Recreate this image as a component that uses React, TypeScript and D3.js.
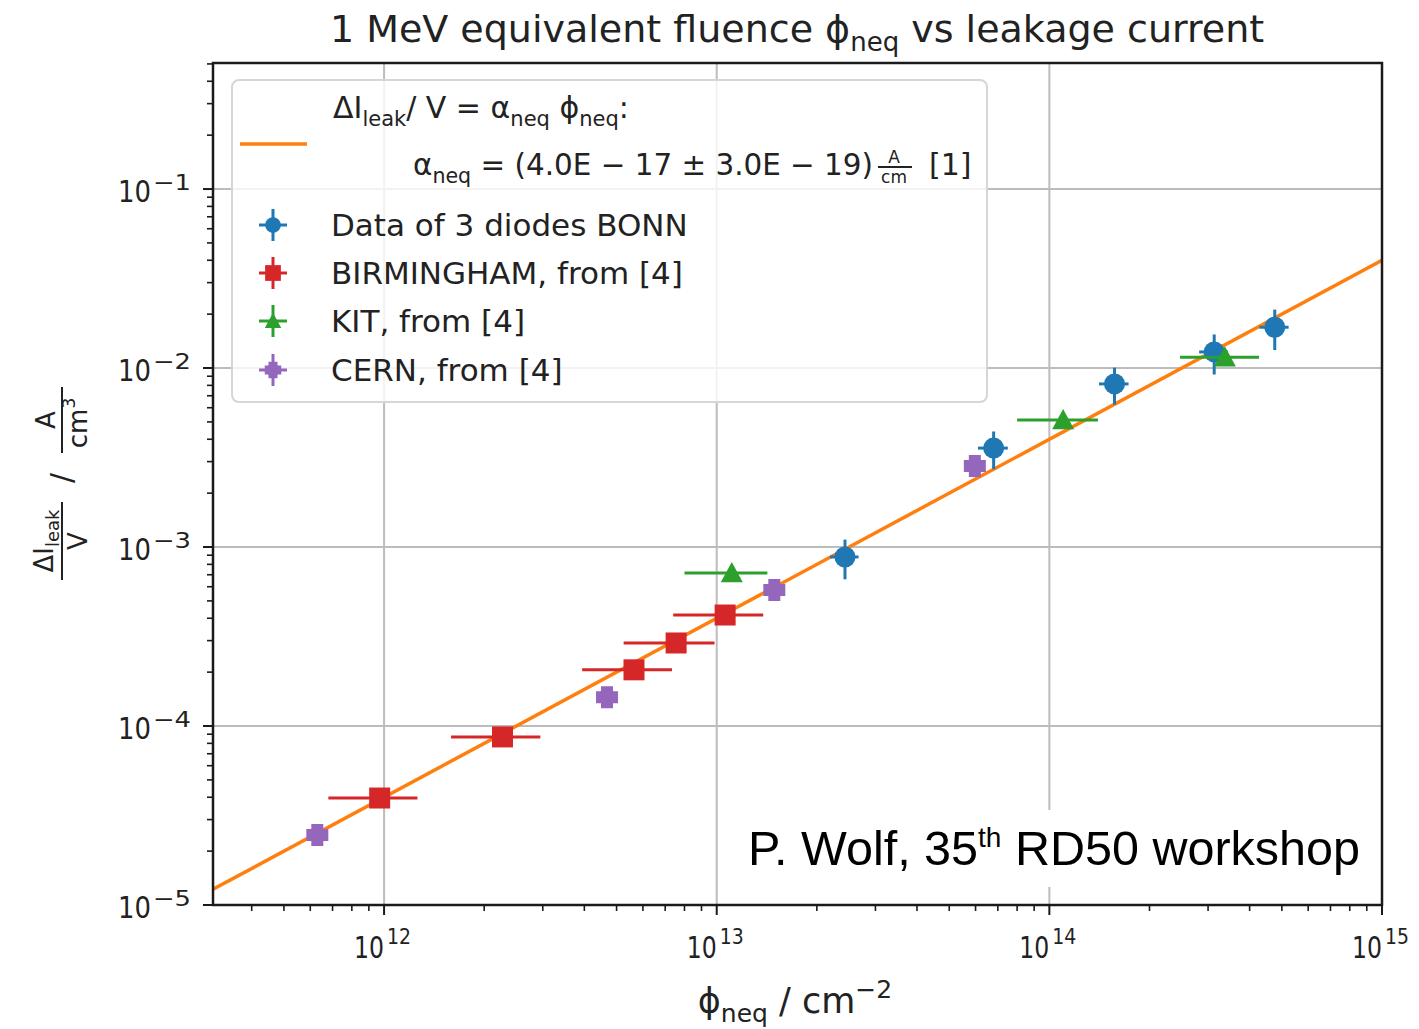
import React from "react";
import * as d3 from "d3";

const W = 1419;
const H = 1029;

// ---- data ----
const bonnX = [2.43e13, 6.8e13, 1.57e14, 3.13e14, 4.76e14];
const bonnY = [8.8e-4, 3.57e-3, 8.15e-3, 1.23e-2, 1.69e-2];
const bonnXErr = [2.4e12, 7.0e12, 1.6e13, 3.1e13, 4.8e13];
const bonnYErr = [2.2e-4, 0.85e-3, 1.9e-3, 3.1e-3, 4.3e-3];

const birmX = [9.7e11, 2.27e12, 5.64e12, 7.55e12, 1.06e13];
const birmY = [3.96e-5, 8.69e-5, 2.06e-4, 2.91e-4, 4.17e-4];
const birmXErr = [2.9e11, 6.8e11, 1.7e12, 2.3e12, 3.2e12];

const kitX = [1.11e13, 1.1e14, 3.37e14];
const kitY = [7.16e-4, 5.13e-3, 1.15e-2];
const kitXErr = [3.1e12, 3.0e13, 9.0e13];

const cernX = [6.3e11, 4.68e12, 1.49e13, 5.97e13];
const cernY = [2.46e-5, 1.45e-4, 5.75e-4, 2.84e-3];

const alphaNeq = 4.0e-17;

const xTickExps = [12, 13, 14, 15];
const yTickExps = [-5, -4, -3, -2, -1];

const COLORS = {
  bonn: "#1f77b4",
  birm: "#d62728",
  kit: "#2ca02c",
  cern: "#9467bd",
  fit: "#ff7f0e",
};

const FONT = "'DejaVu Sans', Verdana, sans-serif";

// ---- layout ----
const plot = { left: 213, right: 1382, top: 63, bottom: 905 };

const x = d3.scaleLog().domain([3.06e11, 1e15]).range([plot.left, plot.right]);
const y = d3.scaleLog().domain([1e-5, 0.506]).range([plot.bottom, plot.top]);

function minorTicks(scale: any) {
  const [d0, d1] = scale.domain();
  const out: number[] = [];
  for (let e = Math.floor(Math.log10(d0)); e <= Math.ceil(Math.log10(d1)); e++) {
    for (let m = 2; m <= 9; m++) {
      const v = m * Math.pow(10, e);
      if (v >= d0 && v <= d1) out.push(v);
    }
  }
  return out;
}

function Marker({ kind, cx, cy, s = 1 }: { kind: string; cx: number; cy: number; s?: number }) {
  if (kind === "bonn") return <circle cx={cx} cy={cy} r={10.5 * s} fill={COLORS.bonn} />;
  if (kind === "birm")
    return <rect x={cx - 10.5 * s} y={cy - 10.5 * s} width={21 * s} height={21 * s} fill={COLORS.birm} />;
  if (kind === "kit") {
    const h = 11 * s;
    return (
      <polygon
        points={`${cx},${cy - h} ${cx + h},${cy + h * 0.85} ${cx - h},${cy + h * 0.85}`}
        fill={COLORS.kit}
      />
    );
  }
  // cern: filled plus ("P")
  const a = 11 * s;
  const b = 6 * s;
  const pts = [
    [-b, -a], [b, -a], [b, -b], [a, -b], [a, b], [b, b], [b, a], [-b, a], [-b, b], [-a, b], [-a, -b], [-b, -b],
  ]
    .map(([u, v]) => `${cx + u},${cy + v}`)
    .join(" ");
  return (
    <g>
      <polygon points={pts} fill={COLORS.cern} />
      <circle cx={cx} cy={cy} r={8.5 * s} fill={COLORS.cern} />
    </g>
  );
}

export default function App() {
  const fitLine = d3
    .line<number>()
    .x((d) => x(d))
    .y((d) => y(alphaNeq * d));
  const fitXs = x.domain();

  const legendEntries = [
    { kind: "bonn", label: "Data of 3 diodes BONN", cy: 225 },
    { kind: "birm", label: "BIRMINGHAM, from [4]", cy: 273 },
    { kind: "kit", label: "KIT, from [4]", cy: 321 },
    { kind: "cern", label: "CERN, from [4]", cy: 370 },
  ];

  const ebW = 3;

  return (
    <svg
      width={W}
      height={H}
      style={{ position: "absolute", left: 0, top: 0, background: "#fff" }}
      fontFamily={FONT}
    >
      <rect x={0} y={0} width={W} height={H} fill="#fff" />
      <defs>
        <clipPath id="plotclip">
          <rect x={plot.left} y={plot.top} width={plot.right - plot.left} height={plot.bottom - plot.top} />
        </clipPath>
      </defs>

      {/* grid */}
      <g stroke="#bcbcbc" strokeWidth={2}>
        {xTickExps.map((e) => (
          <line key={"gx" + e} x1={x(Math.pow(10, e))} x2={x(Math.pow(10, e))} y1={plot.top} y2={plot.bottom} />
        ))}
        {yTickExps.map((e) => (
          <line key={"gy" + e} x1={plot.left} x2={plot.right} y1={y(Math.pow(10, e))} y2={y(Math.pow(10, e))} />
        ))}
      </g>

      <g clipPath="url(#plotclip)">
        {/* fit line */}
        <path d={fitLine(fitXs) || ""} stroke={COLORS.fit} strokeWidth={3.5} fill="none" />

        {/* BONN */}
        {bonnX.map((v, i) => (
          <g key={"bo" + i} stroke={COLORS.bonn} strokeWidth={ebW}>
            <line x1={x(v)} x2={x(v)} y1={y(bonnY[i] - bonnYErr[i])} y2={y(bonnY[i] + bonnYErr[i])} />
            <line x1={x(v - bonnXErr[i])} x2={x(v + bonnXErr[i])} y1={y(bonnY[i])} y2={y(bonnY[i])} />
          </g>
        ))}
        {bonnX.map((v, i) => (
          <Marker key={"bom" + i} kind="bonn" cx={x(v)} cy={y(bonnY[i])} />
        ))}

        {/* BIRMINGHAM */}
        {birmX.map((v, i) => (
          <line
            key={"bi" + i}
            stroke={COLORS.birm}
            strokeWidth={ebW}
            x1={x(v - birmXErr[i])}
            x2={x(v + birmXErr[i])}
            y1={y(birmY[i])}
            y2={y(birmY[i])}
          />
        ))}
        {birmX.map((v, i) => (
          <Marker key={"bim" + i} kind="birm" cx={x(v)} cy={y(birmY[i])} />
        ))}

        {/* KIT */}
        {kitX.map((v, i) => (
          <line
            key={"ki" + i}
            stroke={COLORS.kit}
            strokeWidth={ebW}
            x1={x(v - kitXErr[i])}
            x2={x(v + kitXErr[i])}
            y1={y(kitY[i])}
            y2={y(kitY[i])}
          />
        ))}
        {kitX.map((v, i) => (
          <Marker key={"kim" + i} kind="kit" cx={x(v)} cy={y(kitY[i])} />
        ))}

        {/* CERN */}
        {cernX.map((v, i) => (
          <Marker key={"cem" + i} kind="cern" cx={x(v)} cy={y(cernY[i])} />
        ))}
      </g>

      {/* legend */}
      <g>
        <rect x={232} y={80} width={755} height={322} rx={7} fill="#fff" fillOpacity={0.8} stroke="#d6d6d6" strokeWidth={2} />
        <line x1={240} x2={307} y1={144} y2={144} stroke={COLORS.fit} strokeWidth={3.5} />
        <text x={333} y={118} fontSize={30} fill="#222">
          <tspan>ΔI</tspan>
          <tspan fontSize={21} dy={8}>leak</tspan>
          <tspan dy={-8}>/ V = α</tspan>
          <tspan fontSize={21} dy={8}>neq</tspan>
          <tspan dy={-8}> ϕ</tspan>
          <tspan fontSize={21} dy={8}>neq</tspan>
          <tspan dy={-8}>:</tspan>
        </text>
        <text x={413} y={175} fontSize={30} fill="#222" textLength={460} lengthAdjust="spacingAndGlyphs">
          <tspan>α</tspan>
          <tspan fontSize={21} dy={8}>neq</tspan>
          <tspan dy={-8}> = (4.0E − 17 ± 3.0E − 19)</tspan>
        </text>
        <text x={894} y={163} fontSize={17} textAnchor="middle" fill="#222">A</text>
        <line x1={878} x2={912} y1={167} y2={167} stroke="#222" strokeWidth={1.8} />
        <text x={894} y={183} fontSize={17} textAnchor="middle" fill="#222">cm</text>
        <text x={929} y={175} fontSize={30} fill="#222">[1]</text>

        {legendEntries.map((e) => (
          <g key={e.kind}>
            <g stroke={(COLORS as any)[e.kind]} strokeWidth={3}>
              <line x1={273} x2={273} y1={e.cy - 16} y2={e.cy + 16} />
              <line x1={259} x2={287} y1={e.cy} y2={e.cy} />
            </g>
            <Marker kind={e.kind} cx={273} cy={e.cy} s={0.75} />
            <text x={331} y={e.cy + 11} fontSize={31} fill="#222">
              {e.label}
            </text>
          </g>
        ))}
      </g>

      {/* annotation box */}
      <rect x={735} y={810} width={645} height={77} fill="#fff" />
      <text x={748} y={865} fontSize={48.5} fontFamily="'Liberation Sans', Arial, sans-serif" fill="#000">
        <tspan>P. Wolf, 35</tspan>
        <tspan fontSize={28} dy={-18}>th</tspan>
        <tspan dy={18}> RD50 workshop</tspan>
      </text>

      {/* spines */}
      <rect
        x={plot.left}
        y={plot.top}
        width={plot.right - plot.left}
        height={plot.bottom - plot.top}
        fill="none"
        stroke="#1a1a1a"
        strokeWidth={2.5}
      />

      {/* ticks */}
      <g stroke="#1a1a1a">
        {xTickExps.map((e) => (
          <line key={"xt" + e} x1={x(Math.pow(10, e))} x2={x(Math.pow(10, e))} y1={plot.bottom} y2={plot.bottom + 10} strokeWidth={2} />
        ))}
        {minorTicks(x).map((v, i) => (
          <line key={"xm" + i} x1={x(v)} x2={x(v)} y1={plot.bottom} y2={plot.bottom + 6} strokeWidth={1.6} />
        ))}
        {yTickExps.map((e) => (
          <line key={"yt" + e} x1={plot.left - 10} x2={plot.left} y1={y(Math.pow(10, e))} y2={y(Math.pow(10, e))} strokeWidth={2} />
        ))}
        {minorTicks(y).map((v, i) => (
          <line key={"ym" + i} x1={plot.left - 6} x2={plot.left} y1={y(v)} y2={y(v)} strokeWidth={1.6} />
        ))}
      </g>

      {/* x tick labels */}
      {xTickExps.map((e) => (
        <g key={"xl" + e}>
          <text x={x(Math.pow(10, e)) - 30} y={958} fontSize={30} fill="#222" textLength={30} lengthAdjust="spacingAndGlyphs">
            10
          </text>
          <text x={x(Math.pow(10, e)) + 3} y={944} fontSize={21} fill="#222" textLength={24} lengthAdjust="spacingAndGlyphs">
            {e}
          </text>
        </g>
      ))}

      {/* y tick labels */}
      {yTickExps.map((e) => (
        <g key={"yl" + e}>
          <text x={118} y={y(Math.pow(10, e)) + 13} fontSize={30} fill="#222" textLength={33} lengthAdjust="spacingAndGlyphs">
            10
          </text>
          <text x={153} y={y(Math.pow(10, e)) + 1} fontSize={22} fill="#222" textLength={38} lengthAdjust="spacingAndGlyphs">
            {"\u2212" + Math.abs(e)}
          </text>
        </g>
      ))}

      {/* title */}
      <text x={797} y={42} fontSize={38} textAnchor="middle" fill="#222">
        <tspan>1 MeV equivalent fluence ϕ</tspan>
        <tspan fontSize={26} dy={9}>neq</tspan>
        <tspan dy={-9}> vs leakage current</tspan>
      </text>

      {/* x label */}
      <text x={795} y={1013} fontSize={35} textAnchor="middle" fill="#222">
        <tspan>ϕ</tspan>
        <tspan fontSize={25} dy={9}>neq</tspan>
        <tspan dy={-9}> / cm</tspan>
        <tspan fontSize={25} dy={-15}>−2</tspan>
      </text>

      {/* y label */}
      <g transform="translate(62,487) rotate(-90)" fill="#222">
        <text x={-54} y={-9} fontSize={26} textAnchor="middle">
          <tspan>ΔI</tspan>
          <tspan fontSize={18} dy={6}>leak</tspan>
        </text>
        <line x1={-93} x2={-15} y1={0} y2={0} stroke="#222" strokeWidth={2} />
        <text x={-54} y={25} fontSize={26} textAnchor="middle">V</text>
        <text x={9} y={10} fontSize={30} textAnchor="middle">/</text>
        <line x1={34} x2={100} y1={0} y2={0} stroke="#222" strokeWidth={2} />
        <text x={67} y={-7} fontSize={26} textAnchor="middle">A</text>
        <text x={64} y={25} fontSize={26} textAnchor="middle">
          <tspan>cm</tspan>
          <tspan fontSize={17} dy={-12}>3</tspan>
        </text>
      </g>
    </svg>
  );
}
